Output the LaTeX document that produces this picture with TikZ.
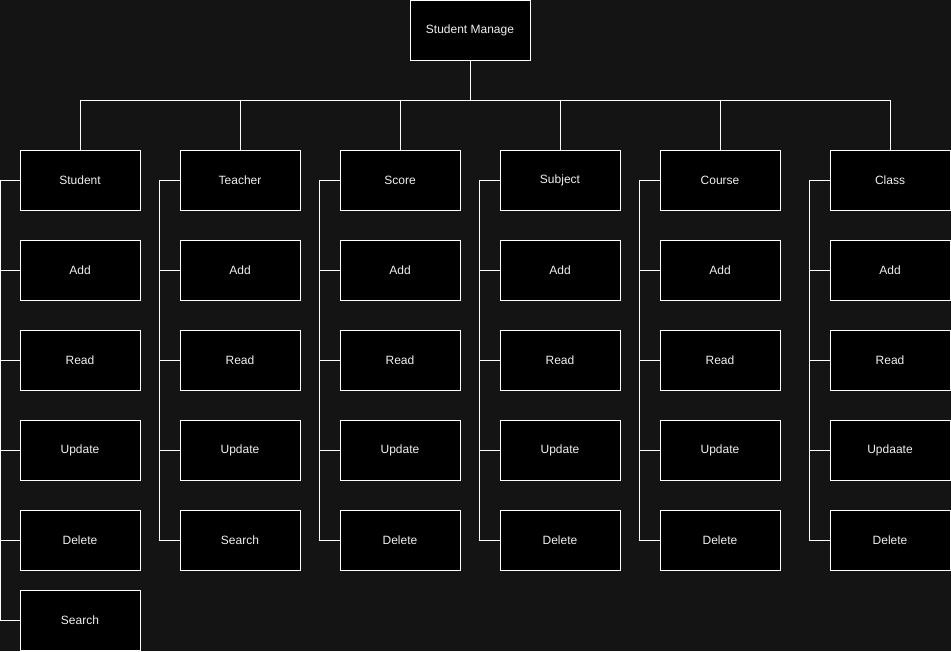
\documentclass[tikz,border=0pt]{standalone}
\usepackage{fontspec}
\setmainfont{Liberation Sans}
\definecolor{bgc}{HTML}{141414}
\definecolor{txtc}{HTML}{F0F0F0}
\begin{document}
\begin{tikzpicture}[x=1pt,y=-1pt,
  box/.style={draw=white,fill=black,line width=1pt,minimum width=120pt,minimum height=60pt,inner sep=0pt,text=txtc,font=\fontsize{12pt}{14pt}\selectfont},
  link/.style={draw=white,line width=1pt}]
\fill[bgc] (0,0) rectangle (951,651);
\useasboundingbox (0,0) rectangle (951,651);
\node[box] (top) at (470,30) {Student Manage};
% column heads
\node[box] (c1) at (80,180) {Student};
\node[box] (c2) at (240,180) {Teacher};
\node[box] (c3) at (400,180) {Score};
\node[box] (c4) at (560,180) {Subject};
\node[box] (c5) at (720,180) {Course};
\node[box] (c6) at (890,180) {Class};
% Student
\node[box] (c1a) at (80,270) {Add};
\node[box] (c1b) at (80,360) {Read};
\node[box] (c1c) at (80,450) {Update};
\node[box] (c1d) at (80,540) {Delete};
\node[box] (c1e) at (80,620) {Search};
% Teacher
\node[box] (c2a) at (240,270) {Add};
\node[box] (c2b) at (240,360) {Read};
\node[box] (c2c) at (240,450) {Update};
\node[box] (c2d) at (240,540) {Search};
% Score
\node[box] (c3a) at (400,270) {Add};
\node[box] (c3b) at (400,360) {Read};
\node[box] (c3c) at (400,450) {Update};
\node[box] (c3d) at (400,540) {Delete};
% Subject
\node[box] (c4a) at (560,270) {Add};
\node[box] (c4b) at (560,360) {Read};
\node[box] (c4c) at (560,450) {Update};
\node[box] (c4d) at (560,540) {Delete};
% Course
\node[box] (c5a) at (720,270) {Add};
\node[box] (c5b) at (720,360) {Read};
\node[box] (c5c) at (720,450) {Update};
\node[box] (c5d) at (720,540) {Delete};
% Class
\node[box] (c6a) at (890,270) {Add};
\node[box] (c6b) at (890,360) {Read};
\node[box] (c6c) at (890,450) {Updaate};
\node[box] (c6d) at (890,540) {Delete};
% top connectors
\foreach \c in {c1,c2,c3,c4,c5,c6}
  \draw[link] (top.south) -- ++(0,40) -| (\c.north);
% spines
\foreach \ch in {c1a,c1b,c1c,c1d,c1e}
  \draw[link] (c1.west) -- ++(-19.5,0) |- (\ch.west);
\foreach \p in {2,3,4,5,6}
  \foreach \s in {a,b,c,d}
    \draw[link] (c\p.west) -- ++(-20,0) |- (c\p\s.west);
\end{tikzpicture}
\end{document}
